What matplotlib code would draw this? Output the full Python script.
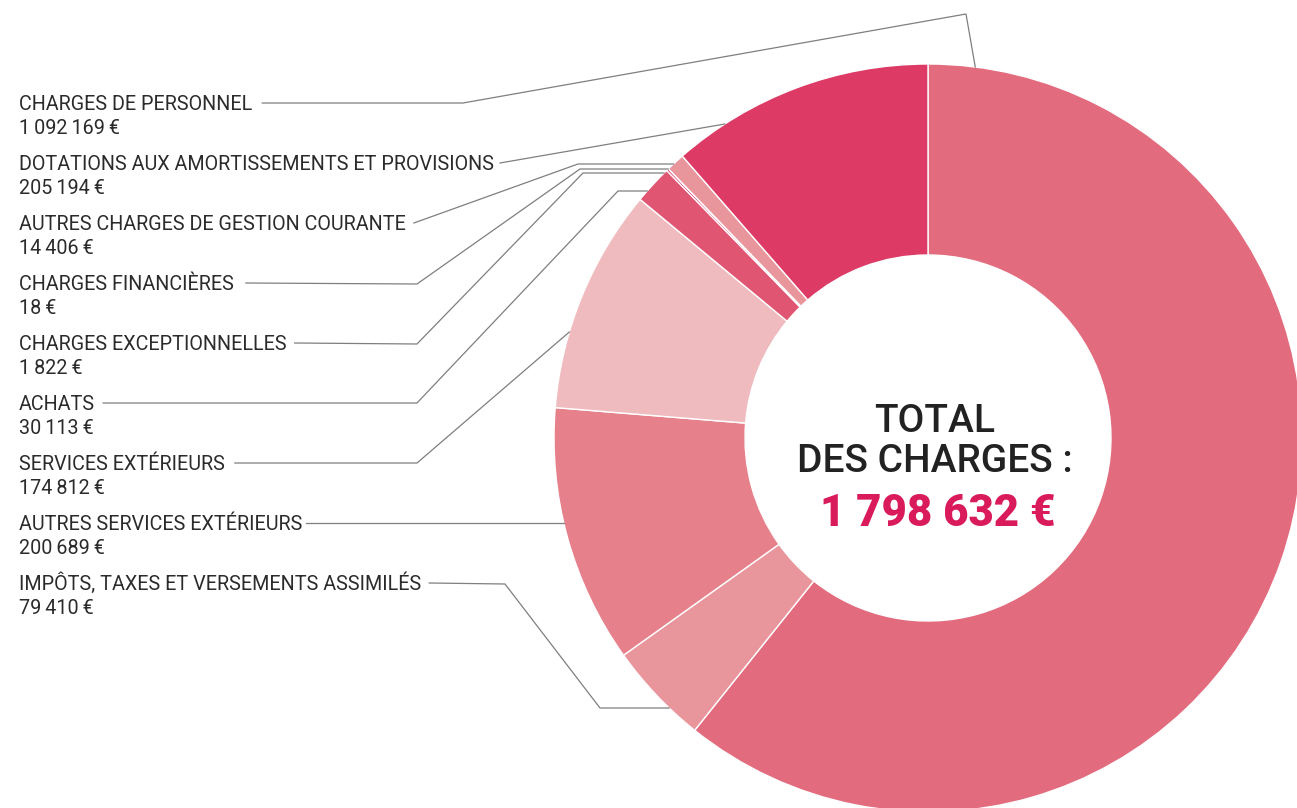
import matplotlib
matplotlib.use("Agg")
import matplotlib.pyplot as plt
import numpy as np

plt.rcParams['font.family'] = ['Roboto', 'DejaVu Sans']

# Data (label order, top to bottom in the legend column)
labels = [
    "CHARGES DE PERSONNEL",
    "DOTATIONS AUX AMORTISSEMENTS ET PROVISIONS",
    "AUTRES CHARGES DE GESTION COURANTE",
    "CHARGES FINANCIÈRES",
    "CHARGES EXCEPTIONNELLES",
    "ACHATS",
    "SERVICES EXTÉRIEURS",
    "AUTRES SERVICES EXTÉRIEURS",
    "IMPÔTS, TAXES ET VERSEMENTS ASSIMILÉS",
]
values = [1092169, 205194, 14406, 18, 1822, 30113, 174812, 200689, 79410]
value_labels = ["1\u2009092\u2009169\u2009€", "205\u2009194\u2009€", "14\u2009406\u2009€",
                "18\u2009€", "1\u2009822\u2009€", "30\u2009113\u2009€",
                "174\u2009812\u2009€", "200\u2009689\u2009€", "79\u2009410\u2009€"]
total_label = "1 798 632 €"

# order of the slices clockwise from 12 o'clock
ring_order = [0, 8, 7, 6, 5, 4, 3, 2, 1]
colors = {0: "#E36B7E", 8: "#E9959C", 7: "#E6808B", 6: "#F0BBBF",
          5: "#E05672", 4: "#D81B5A", 3: "#D81B5A", 2: "#E9959C", 1: "#DD3B66"}

W, H = 1297, 808
fig = plt.figure(figsize=(W / 100, H / 100), dpi=100)
ax = fig.add_axes([0, 0, 1, 1])

cx, cy = 928, 438          # centre in pixel coords (y from top)
R, ring = 374, 191

ax.pie([values[i] for i in ring_order], colors=[colors[i] for i in ring_order],
       center=(cx, H - cy), radius=R, startangle=90, counterclock=False,
       wedgeprops=dict(width=ring, edgecolor="white", linewidth=1))
ax.set_xlim(0, W)
ax.set_ylim(0, H)
ax.set_aspect("auto")
ax.axis("off")

text_color = "#2b2b2b"
line_color = "#7f7f7f"
fs = 14.2

def circle_x(y, side):
    dx = np.sqrt(R ** 2 - (y - cy) ** 2)
    return cx + dx if side == "right" else cx - dx

# leader elbows (pixel coords) and where the leader meets the ring
leaders = [
    ([(463, 103), (966, 14)], 67, "right"),
    ([], 124, "left"),
    ([(578, 164)], 164, "left"),
    ([(417, 284), (580, 169)], 169, "left"),
    ([(417, 344), (583, 173)], 173, "left"),
    ([(417, 403), (618, 191)], 191, "left"),
    ([(417, 463)], 332, "left"),
    ([], 523, "left"),
    ([(505, 584), (600, 708)], 708, "left"),
]
gaps = [10, 6, 8, 12, 8, 8, 10, 4, 8]

renderer = fig.canvas.get_renderer()
for i, (lab, val) in enumerate(zip(labels, value_labels)):
    yc = 103 + 60 * i
    t = ax.text(19, H - (yc + 7), lab, fontsize=fs, color=text_color,
                ha="left", va="baseline")
    ax.text(19, H - (yc + 31), val, fontsize=fs, color=text_color,
            ha="left", va="baseline")
    x_end = t.get_window_extent(renderer).x1 + gaps[i]
    elbows, y_end, side = leaders[i]
    pts = [(x_end, yc)] + elbows + [(circle_x(y_end, side), y_end)]
    xs = [p[0] for p in pts]
    ys = [H - p[1] for p in pts]
    ax.plot(xs, ys, color=line_color, lw=0.9, solid_joinstyle="miter")

# centre text
ax.text(935, H - 422, "TOTAL", fontsize=28, fontweight="medium",
        color="#222222", ha="center", va="center")
ax.text(935, H - 462, "DES CHARGES :", fontsize=28, fontweight="medium",
        color="#222222", ha="center", va="center")
ax.text(938, H - 514, total_label, fontsize=31.5, fontweight="heavy",
        color="#D91B5C", ha="center", va="center")

fig.savefig("out.png", dpi=100)
